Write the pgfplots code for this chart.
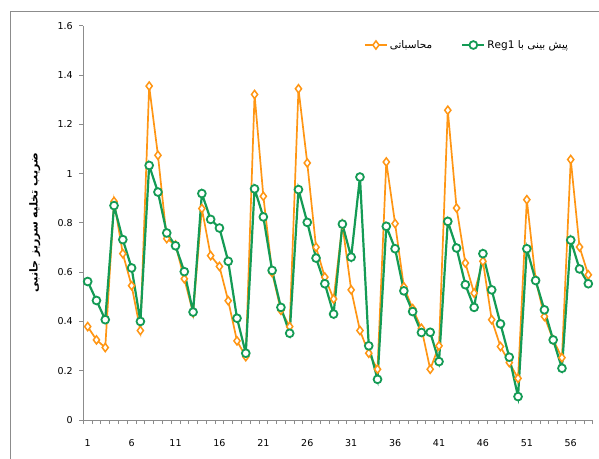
\documentclass[border=0pt]{standalone}
\usepackage{pgfplots}
\pgfplotsset{compat=1.18}
\usepackage{pgfplotstable}
\usepackage{fontspec}
\setmainfont{DejaVu Sans}
\newfontfamily\fa[Script=Arabic]{DejaVu Sans}
\TeXXeTstate=1

\definecolor{calcorange}{RGB}{255,150,20}
\definecolor{reggreen}{RGB}{20,155,85}
\definecolor{axisgray}{RGB}{140,140,140}

% n: sample number, calc: computed coefficient, reg: Reg1 prediction
\pgfplotstableread{
n  calc   reg
1  0.379  0.562
2  0.325  0.485
3  0.294  0.407
4  0.887  0.870
5  0.675  0.732
6  0.545  0.617
7  0.363  0.400
8  1.355  1.033
9  1.074  0.925
10 0.736  0.759
11 0.710  0.707
12 0.573  0.602
13 0.435  0.438
14 0.858  0.919
15 0.667  0.814
16 0.623  0.779
17 0.484  0.644
18 0.321  0.413
19 0.257  0.271
20 1.321  0.938
21 0.908  0.824
22 0.598  0.607
23 0.445  0.457
24 0.379  0.352
25 1.344  0.935
26 1.043  0.802
27 0.701  0.657
28 0.580  0.553
29 0.491  0.430
30 0.793  0.795
31 0.528  0.661
32 0.363  0.986
33 0.271  0.301
34 0.206  0.165
35 1.047  0.786
36 0.797  0.695
37 0.540  0.524
38 0.452  0.440
39 0.372  0.355
40 0.206  0.356
41 0.301  0.237
42 1.257  0.806
43 0.860  0.698
44 0.637  0.549
45 0.515  0.457
46 0.644  0.675
47 0.407  0.528
48 0.298  0.390
49 0.233  0.255
50 0.169  0.095
51 0.894  0.695
52 0.570  0.566
53 0.420  0.447
54 0.325  0.325
55 0.253  0.210
56 1.057  0.730
57 0.702  0.613
58 0.589  0.553
}\datatable

\begin{document}
\begin{tikzpicture}
\useasboundingbox (0,0) rectangle (599bp,459bp);
% chart frame
\draw[axisgray, line width=0.8bp] (10bp,0) -- (10bp,448bp) -- (599bp,448bp);
\begin{axis}[
  at={(83.3bp,39bp)}, anchor=south west,
  scale only axis, width=509.4bp, height=394.3bp,
  xmin=0.5, xmax=58.5, ymin=0, ymax=1.6,
  axis x line=bottom, axis y line=left,
  axis line style={axisgray, line width=0.8bp, -},
  tick style={axisgray, line width=0.8bp},
  tick align=outside,
  major tick length=4bp,
  ytick={0,0.2,0.4,0.6,0.8,1,1.2,1.4,1.6},
  yticklabel style={/pgf/number format/fixed, /pgf/number format/precision=1, xshift=-3bp},
  xtick={0.5,1.5,...,58.5},
  xticklabels={},
  extra x ticks={1,6,11,16,21,26,31,36,41,46,51,56},
  extra x tick labels={1,6,11,16,21,26,31,36,41,46,51,56},
  extra x tick style={tick style={draw=none}},
  xticklabel style={yshift=-12bp},
  /pgf/number format/assume math mode=true,
  tick label style={font=\fontsize{9.5bp}{11bp}\selectfont, text=black},
  ylabel={\fa\bfseries\beginR ضریب تخلیه سرریز جانبی\endR},
  ylabel style={at={(axis description cs:-0.095,0.5)}, anchor=center, font=\fontsize{11bp}{13bp}\selectfont},
  legend columns=2,
  legend style={at={(rel axis cs:0.545,0.951)}, anchor=west, draw=none, fill=none,
    font=\fontsize{10.5bp}{12bp}\selectfont,
    /tikz/every even column/.append style={column sep=27bp},
    nodes={inner sep=2bp}},
  legend image code/.code={\draw[mark repeat=2, mark phase=2, #1] plot coordinates {(0bp,0bp) (11bp,0bp) (22bp,0bp)};},
  clip=false,
]
\addplot[calcorange, line width=1.7bp, mark=diamond*, mark size=4.1bp,
  mark options={fill=white, line width=1.5bp}] table[x=n, y=calc] {\datatable};
\addlegendentry{\fa\beginR محاسباتی\endR}
\addplot[reggreen, line width=2.2bp, mark=*, mark size=3.9bp,
  mark options={fill=white, line width=1.8bp}] table[x=n, y=reg] {\datatable};
\addlegendentry{\fa\beginR پیش بینی با \beginL Reg1\endL\endR}
\end{axis}
\end{tikzpicture}
\end{document}
